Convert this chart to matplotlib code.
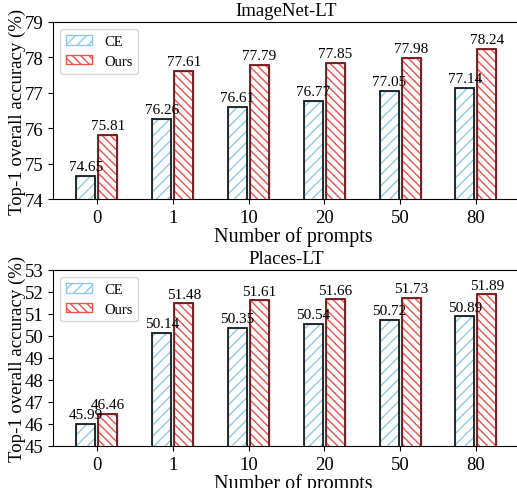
import matplotlib
matplotlib.use('Agg')
import matplotlib.pyplot as plt
import numpy as np

plt.rcParams['font.family'] = 'Liberation Serif'
plt.rcParams['hatch.linewidth'] = 1.0

# Datos
prompts = ['0', '1', '10', '20', '50', '80']
imagenet_ce = [74.65, 76.26, 76.61, 76.77, 77.05, 77.14]
imagenet_ours = [75.81, 77.61, 77.79, 77.85, 77.98, 78.24]
places_ce = [45.99, 50.14, 50.35, 50.54, 50.72, 50.89]
places_ours = [46.46, 51.48, 51.61, 51.66, 51.73, 51.89]

fig = plt.figure(figsize=(5.17, 4.89), dpi=100)
ax1 = fig.add_axes([0.1025, 0.591, 0.903, 0.362])
ax2 = fig.add_axes([0.1025, 0.086, 0.903, 0.360])

x = np.arange(len(prompts))
w = 0.25
off = 0.145


def draw(ax, ce, ours, title, ylim, yticks):
    # barras con trama (color de trama = color del borde) y encima el borde oscuro
    ax.bar(x - off, ce, w, color='white', edgecolor='#8ecae6', hatch='///', linewidth=1, label='CE')
    ax.bar(x - off, ce, w, fill=False, edgecolor='#1a1a1a', linewidth=1.3)
    ax.bar(x + off, ours, w, color='white', edgecolor='#f0504a', hatch='\\\\\\\\', linewidth=1, label='Ours')
    ax.bar(x + off, ours, w, fill=False, edgecolor='#6b1a1a', linewidth=1.3)
    for xi, v in zip(x, ce):
        ax.annotate(f'{v:.2f}', (xi - off, v), xytext=(0, 2), textcoords='offset points',
                    ha='center', va='bottom', fontsize=11)
    for xi, v in zip(x, ours):
        ax.annotate(f'{v:.2f}', (xi + off, v), xytext=(0, 2), textcoords='offset points',
                    ha='center', va='bottom', fontsize=11)
    ax.set_ylim(*ylim)
    ax.set_yticks(yticks)
    ax.set_xlim(-0.58, 5.58)
    ax.set_xticks(x)
    ax.set_xticklabels(prompts)
    ax.tick_params(labelsize=13.5)
    ax.set_title(title, fontsize=13.5, pad=5)
    ax.set_xlabel('Number of prompts', fontsize=14.5)
    ax.xaxis.set_label_coords(0.515, -0.155)
    ax.set_ylabel('Top-1 overall accuracy (%)', fontsize=13.5)
    ax.yaxis.set_label_coords(-0.058, 0.5)
    ax.legend(loc='upper left', fontsize=10.5, handlelength=1.8, handleheight=0.6,
              borderpad=0.4, labelspacing=0.45, handletextpad=0.8)


draw(ax1, imagenet_ce, imagenet_ours, 'ImageNet-LT', (74, 79), np.arange(74, 80))
draw(ax2, places_ce, places_ours, 'Places-LT', (45, 53), np.arange(45, 54))

plt.savefig('out.png', dpi=100)
